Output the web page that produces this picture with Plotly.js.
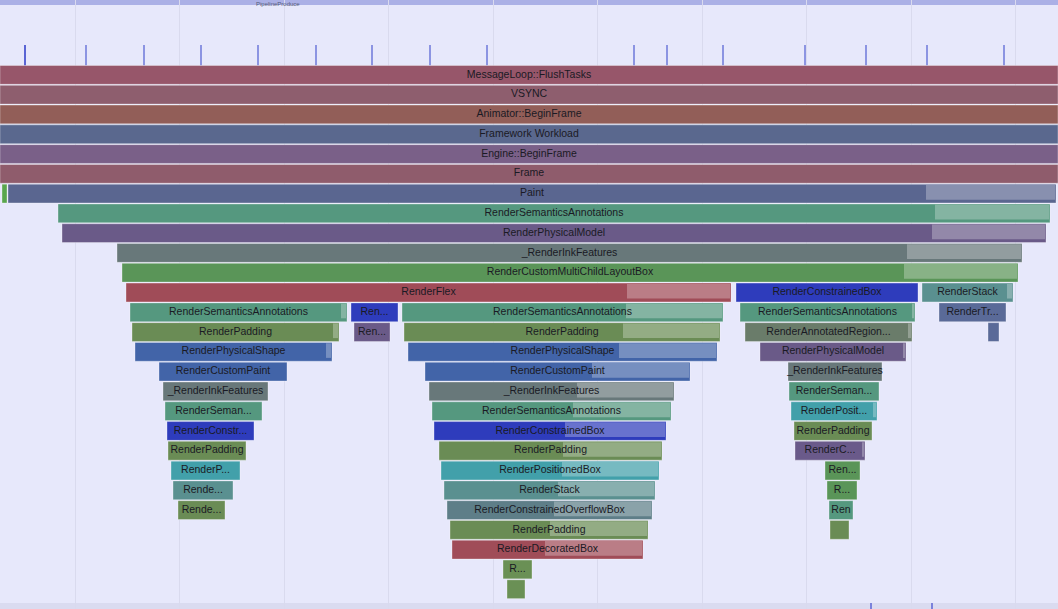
<!DOCTYPE html>
<html>
<head>
<meta charset="utf-8">
<script src="https://cdn.plot.ly/plotly-3.0.1.min.js"></script>
<style>html,body{margin:0;padding:0;background:#e7e8fb;overflow:hidden}#chart{width:1058px;height:609px}</style>
</head>
<body>
<div id="chart"></div>
<script>
// ---- data (time units on a common timeline) ----
const labels = [
  'MessageLoop::FlushTasks','VSYNC','Animator::BeginFrame','Framework Workload','Engine::BeginFrame','Frame',
  '','Paint','RenderSemanticsAnnotations','RenderPhysicalModel','_RenderInkFeatures','RenderCustomMultiChildLayoutBox',
  'RenderFlex','RenderConstrainedBox','RenderStack',
  'RenderSemanticsAnnotations','Ren...','RenderSemanticsAnnotations','RenderSemanticsAnnotations','RenderTr...',
  'RenderPadding','Ren...','RenderPadding','RenderAnnotatedRegion...','',
  'RenderPhysicalShape','RenderPhysicalShape','RenderPhysicalModel',
  'RenderCustomPaint','RenderCustomPaint','_RenderInkFeatures',
  '_RenderInkFeatures','_RenderInkFeatures','RenderSeman...',
  'RenderSeman...','RenderSemanticsAnnotations','RenderPosit...',
  'RenderConstr...','RenderConstrainedBox','RenderPadding',
  'RenderPadding','RenderPadding','RenderC...',
  'RenderP...','RenderPositionedBox','Ren...',
  'Rende...','RenderStack','R...',
  'Rende...','RenderConstrainedOverflowBox','Ren',
  'RenderPadding','',
  'RenderDecoratedBox',
  'R...',
  ''
];
const kinds = [
  'MessageLoop','VSYNC','Animator','Framework','Engine','Frame',
  'Build','Paint','RenderSemanticsAnnotations','RenderPhysicalModel','_RenderInkFeatures','RenderCustomMultiChildLayoutBox',
  'RenderFlex','RenderConstrainedBox','RenderStack',
  'RenderSemanticsAnnotations','RenderConstrainedBox','RenderSemanticsAnnotations','RenderSemanticsAnnotations','RenderTransform',
  'RenderPadding','RenderPhysicalModel','RenderPadding','RenderAnnotatedRegion','RenderTransform',
  'RenderPhysicalShape','RenderPhysicalShape','RenderPhysicalModel',
  'RenderCustomPaint','RenderCustomPaint','_RenderInkFeatures',
  '_RenderInkFeatures','_RenderInkFeatures','RenderSemanticsAnnotations',
  'RenderSemanticsAnnotations','RenderSemanticsAnnotations','RenderPositionedBox',
  'RenderConstrainedBox','RenderConstrainedBox','RenderPadding',
  'RenderPadding','RenderPadding','RenderClipRRect',
  'RenderPositionedBox','RenderPositionedBox','RenderOpacity',
  'RenderStack','RenderStack','RenderOpacity',
  'RenderPadding','RenderConstrainedOverflowBox','RenderSemanticsAnnotations',
  'RenderPadding','RenderPadding',
  'RenderDecoratedBox',
  'RenderParagraph',
  'RenderParagraph'
];
const depth = [
  0,1,2,3,4,5,
  6,6,7,8,9,10,
  11,11,11,
  12,12,12,12,12,
  13,13,13,13,13,
  14,14,14,
  15,15,15,
  16,16,16,
  17,17,17,
  18,18,18,
  19,19,19,
  20,20,20,
  21,21,21,
  22,22,22,
  23,23,
  24,
  25,
  26
];
const starts = [
  0,0,0,0,0,0,
  2,8,58,62,117,122,
  126,736,922,
  130,351,402,740,939,
  132,354,404,745,988,
  135,408,760,
  159,425,788,
  163,429,789,
  165,432,791,
  167,434,794,
  168,439,795,
  171,441,825,
  173,444,827,
  178,447,829,
  450,830,
  452,
  503,
  507
];
const ends = [
  1058,1058,1058,1058,1058,1058,
  7,1056,1050,1046,1022,1018,
  731,918,1013,
  347,398,723,915,1006,
  339,390,720,912,999,
  332,717,906,
  287,690,882,
  268,674,879,
  262,671,877,
  254,666,872,
  246,662,865,
  240,659,860,
  233,655,857,
  225,652,853,
  648,849,
  643,
  532,
  525
];
// start of the highlighted (lighter) trailing segment of a slice; null = none
const tailStarts = [
  null,null,null,null,null,null,
  null,926,935,932,907,904,
  627,null,1007,
  341,null,626,912,null,
  333,null,623,908,null,
  326,619,903,
  null,592,null,
  null,577,null,
  null,573,873,
  null,565,null,
  null,563,862,
  null,562,null,
  null,558,null,
  null,554,null,
  550,null,
  545,
  null,
  null
];
// frame markers on the timeline header, and on the footer track
const frameMarks = [25,86,144,201,258,316,372,430,487,634,667,723,805,866,927,1004];
const footerMarks = [871,932];

// ---- styles ----
const kindColor = {
  MessageLoop:'#97566a', VSYNC:'#8e5e6e', Animator:'#925e58', Framework:'#5a688e', Engine:'#7a6088', Frame:'#8f5c6c',
  Build:'#5aa64e', Paint:'#5a6690', RenderSemanticsAnnotations:'#55987f', RenderPhysicalModel:'#6a5a88',
  _RenderInkFeatures:'#68787a', RenderCustomMultiChildLayoutBox:'#5a9558', RenderFlex:'#a04c58',
  RenderConstrainedBox:'#2e3cbc', RenderStack:'#5a9090', RenderTransform:'#5a6a98', RenderPadding:'#6a8c55',
  RenderAnnotatedRegion:'#6a7c6a', RenderPhysicalShape:'#4264a8', RenderCustomPaint:'#4264a8',
  RenderPositionedBox:'#42a0aa', RenderClipRRect:'#6a5a8a', RenderOpacity:'#5a9558',
  RenderConstrainedOverflowBox:'#5e7e88', RenderDecoratedBox:'#a04c58', RenderParagraph:'#6a9055'
};
const ROW0 = -3.787, ROWN = 27.0;

const baseTrace = {
  type:'bar', orientation:'h',
  y: depth, base: starts, x: ends.map((e,i)=>e-starts[i]),
  width: 0.95,
  marker:{color: kinds.map(k=>kindColor[k]), line:{color:'rgba(255,255,255,0.32)', width:1}},
  hoverinfo:'skip'
};
const tIdx = tailStarts.map((t,i)=>t===null?-1:i).filter(i=>i>=0);
const tailTrace = {
  type:'bar', orientation:'h',
  y: tIdx.map(i=>depth[i]), base: tIdx.map(i=>tailStarts[i]), x: tIdx.map(i=>ends[i]-tailStarts[i]-1),
  width: 0.74, offset: -0.435,
  marker:{color:'rgba(255,255,255,0.28)', line:{width:0}},
  hoverinfo:'skip'
};
const lIdx = labels.map((l,i)=>l?i:-1).filter(i=>i>=0);
const textTrace = {
  type:'scatter', mode:'text',
  x: lIdx.map(i=>(starts[i]+ends[i])/2), y: lIdx.map(i=>depth[i]),
  text: lIdx.map(i=>labels[i]),
  textposition:'middle center',
  textfont:{family:'Liberation Sans, Arial, sans-serif', size:10.5, color:'#1a1a24'},
  hoverinfo:'skip'
};
const markTrace = {
  type:'scatter', mode:'markers',
  x: frameMarks, y: frameMarks.map(()=>-1),
  marker:{symbol:'line-ns', size:14.3, line:{width:2, color: frameMarks.map((_,i)=>i===0?'#5a64d4':'#8c94e2')}},
  hoverinfo:'skip'
};
const footTrace = {
  type:'scatter', mode:'markers',
  x: footerMarks, y: footerMarks.map(()=>26.85),
  marker:{symbol:'line-ns', size:4.3, line:{width:1.5, color:'#5a64d4'}},
  hoverinfo:'skip', cliponaxis:false
};

const layout = {
  width:1058, height:609,
  margin:{l:0,r:0,t:0,b:0,pad:0},
  paper_bgcolor:'#e7e8fb', plot_bgcolor:'#e7e8fb',
  barmode:'overlay', showlegend:false,
  xaxis:{range:[0,1058], showgrid:true, gridcolor:'#d9daee', gridwidth:1, tick0:75, dtick:104.5,
         showticklabels:false, ticks:'', zeroline:false, showline:false, fixedrange:true},
  yaxis:{range:[ROWN, ROW0], showgrid:false, showticklabels:false, ticks:'', zeroline:false, showline:false, fixedrange:true},
  shapes:[
    {type:'rect', xref:'paper', yref:'paper', x0:0, x1:1, y0:1-5/609, y1:1, fillcolor:'#abb0e6', line:{width:0}, layer:'below'},
    {type:'rect', xref:'paper', yref:'paper', x0:0, x1:1, y0:0, y1:6/609, fillcolor:'#dadbf0', line:{width:0}, layer:'below'}
  ],
  annotations:[
    {text:'PipelineProduce', x:278, xref:'x', y:1, yref:'paper', yanchor:'top', yshift:1, showarrow:false,
     font:{family:'Liberation Sans, Arial, sans-serif', size:6, color:'#555a7a'}}
  ]
};
Plotly.newPlot('chart',[baseTrace, tailTrace, textTrace, markTrace, footTrace], layout, {staticPlot:true, displayModeBar:false});
</script>
</body>
</html>
